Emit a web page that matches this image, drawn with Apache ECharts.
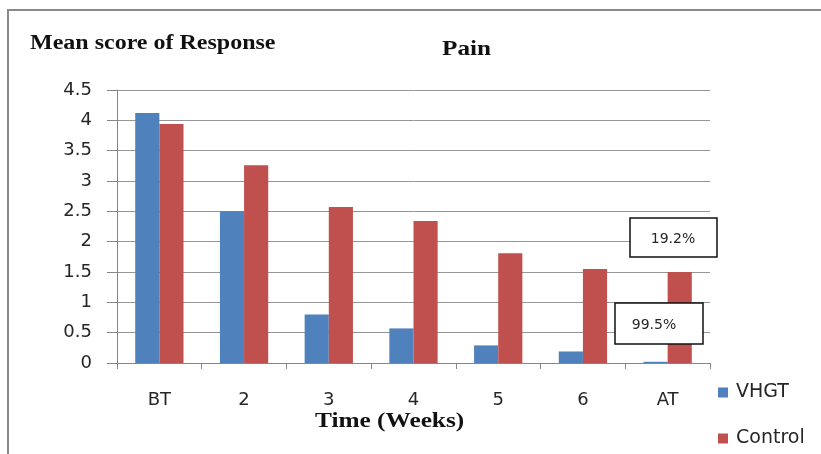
<!DOCTYPE html>
<html>
<head>
<meta charset="utf-8">
<script src="https://cdn.jsdelivr.net/npm/echarts@6/dist/echarts.min.js"></script>
<style>
html,body{margin:0;padding:0;background:#fff;}
#c{width:821px;height:454px;}
</style>
</head>
<body>
<div id="c"></div>
<script>
var categories = ['BT', '2', '3', '4', '5', '6', 'AT'];
var vhgt = [4.12, 2.50, 0.80, 0.57, 0.29, 0.19, 0.02];
var control = [3.94, 3.26, 2.57, 2.34, 1.81, 1.55, 1.50];
var seriesNames = ['VHGT', 'Control'];
var annotations = ['19.2%', '99.5%'];

var chart = echarts.init(document.getElementById('c'));
var labelFont = 'DejaVu Sans';
var txtColor = '#262626';
function legendFor(name, top) {
  return {
    orient: 'vertical', left: 718, top: top, padding: 0,
    itemWidth: 10, itemHeight: 10, itemGap: 4,
    icon: 'rect',
    textStyle: { fontFamily: labelFont, fontSize: 19, color: txtColor, padding: [0, 0, 0, 3] },
    data: [name]
  };
}
chart.setOption({
  animation: false,
  backgroundColor: '#fff',
  grid: { left: 117, right: 111, top: 90, bottom: 91 },
  legend: [legendFor(seriesNames[0], 383), legendFor(seriesNames[1], 429)],
  xAxis: {
    type: 'category', data: categories,
    axisLine: { lineStyle: { color: '#868686', width: 1 } },
    axisTick: { show: true, length: 6, lineStyle: { color: '#868686' } },
    axisLabel: { fontFamily: labelFont, fontSize: 18, color: txtColor, margin: 28 }
  },
  yAxis: {
    type: 'value', min: 0, max: 4.5, interval: 0.5,
    axisLine: { show: true, lineStyle: { color: '#868686', width: 1 } },
    axisTick: { show: true, length: 10, lineStyle: { color: '#868686' } },
    axisLabel: { fontFamily: labelFont, fontSize: 18, color: txtColor, margin: 25 },
    splitLine: { lineStyle: { color: '#969696', width: 1 } }
  },
  series: [
    { name: seriesNames[0], type: 'bar', data: vhgt, barGap: '0%', barCategoryGap: '43%',
      itemStyle: { color: '#4F81BD' } },
    { name: seriesNames[1], type: 'bar', data: control, barGap: '0%', barCategoryGap: '43%',
      itemStyle: { color: '#C0504D' } }
  ],
  graphic: [
    { type: 'line', shape: { x1: 7, y1: 10, x2: 821, y2: 10 }, style: { stroke: '#8a8a8a', lineWidth: 2 } },
    { type: 'line', shape: { x1: 8, y1: 9, x2: 8, y2: 454 }, style: { stroke: '#8a8a8a', lineWidth: 2 } },
    { type: 'text', x: 30, y: 44, scaleX: 1.2, style: { text: 'Mean score of Response', font: 'bold 20px "Liberation Serif"', fill: '#111', textVerticalAlign: 'middle' } },
    { type: 'text', x: 442, y: 50, scaleX: 1.2, style: { text: 'Pain', font: 'bold 21px "Liberation Serif"', fill: '#111', textVerticalAlign: 'middle' } },
    { type: 'text', x: 315, y: 421, scaleX: 1.15, style: { text: 'Time (Weeks)', font: 'bold 22px "Liberation Serif"', fill: '#111', textVerticalAlign: 'middle' } },
    { type: 'rect', shape: { x: 630, y: 218, width: 87, height: 39 }, style: { fill: '#fff', stroke: '#111', lineWidth: 1.5 }, z: 100 },
    { type: 'text', x: 673, y: 239, style: { text: annotations[0], font: '14px "DejaVu Sans"', fill: txtColor, textAlign: 'center', textVerticalAlign: 'middle' }, z: 101 },
    { type: 'rect', shape: { x: 615, y: 303, width: 88, height: 41 }, style: { fill: '#fff', stroke: '#111', lineWidth: 1.5 }, z: 100 },
    { type: 'text', x: 654, y: 325, style: { text: annotations[1], font: '14px "DejaVu Sans"', fill: txtColor, textAlign: 'center', textVerticalAlign: 'middle' }, z: 101 }
  ]
});
</script>
</body>
</html>
